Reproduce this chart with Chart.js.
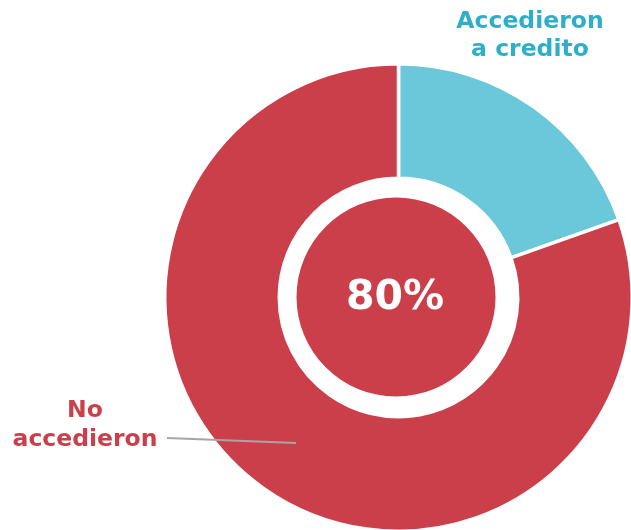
<!DOCTYPE html>
<html>
<head>
<meta charset="utf-8">
<script src="https://cdn.jsdelivr.net/npm/chart.js@4.4.0/dist/chart.umd.min.js"></script>
<style>
html,body{margin:0;padding:0;overflow:hidden;background:#fff;width:631px;height:530px;}
#wrap{position:absolute;left:0;top:0;width:800px;height:600px;}
</style>
</head>
<body>
<div id="wrap"><canvas id="c" width="800" height="600"></canvas></div>
<script>
const categories = ["Accedieron a credito", "No accedieron"];
const values = [19.6, 80.4];
const centerLabel = "80%";
const colors = ["#6BC8DA", "#CB3F4A"];
const labelColors = ["#2EAFC8", "#CB3F4A"];

const cx = 398.5, cy = 297.5, R = 235.5;

const overlay = {
  id: 'overlay',
  afterDatasetsDraw(chart) {
    const ctx = chart.ctx;
    const meta = chart.getDatasetMeta(0);
    const arc = meta.data[0];
    const x = arc.x, y = arc.y;
    ctx.save();
    // center filled circle
    ctx.beginPath();
    ctx.arc(x - 2.5, y - 0.5, 99.5, 0, Math.PI * 2);
    ctx.fillStyle = colors[1];
    ctx.fill();
    // center text
    ctx.fillStyle = "#ffffff";
    ctx.font = "bold 41px 'DejaVu Sans'";
    ctx.textAlign = "center";
    ctx.textBaseline = "middle";
    ctx.fillText(centerLabel, x - 3.5, y + 1);
    // labels
    ctx.font = "bold 23.5px 'DejaVu Sans'";
    ctx.fillStyle = labelColors[0];
    ctx.fillText("Accedieron", 530, 22);
    ctx.fillText("a credito", 530, 50);
    ctx.fillStyle = labelColors[1];
    ctx.fillText("No", 85, 411);
    ctx.fillText("accedieron", 85, 440);
    // leader line
    ctx.beginPath();
    ctx.moveTo(167, 438);
    ctx.lineTo(296, 443);
    ctx.strokeStyle = "#A6A6A6";
    ctx.lineWidth = 2;
    ctx.stroke();
    ctx.restore();
  }
};

new Chart(document.getElementById('c'), {
  type: 'doughnut',
  data: {
    labels: categories,
    datasets: [{
      data: values,
      backgroundColor: colors,
      borderColor: "#ffffff",
      borderWidth: 3.5,
      hoverOffset: 0
    }]
  },
  options: {
    responsive: false,
    animation: false,
    cutout: '51%',
    layout: { padding: { left: cx - R, top: cy - R, right: 800 - (cx + R), bottom: 600 - (cy + R) } },
    plugins: { legend: { display: false }, tooltip: { enabled: false } }
  },
  plugins: [overlay]
});
</script>
</body>
</html>
